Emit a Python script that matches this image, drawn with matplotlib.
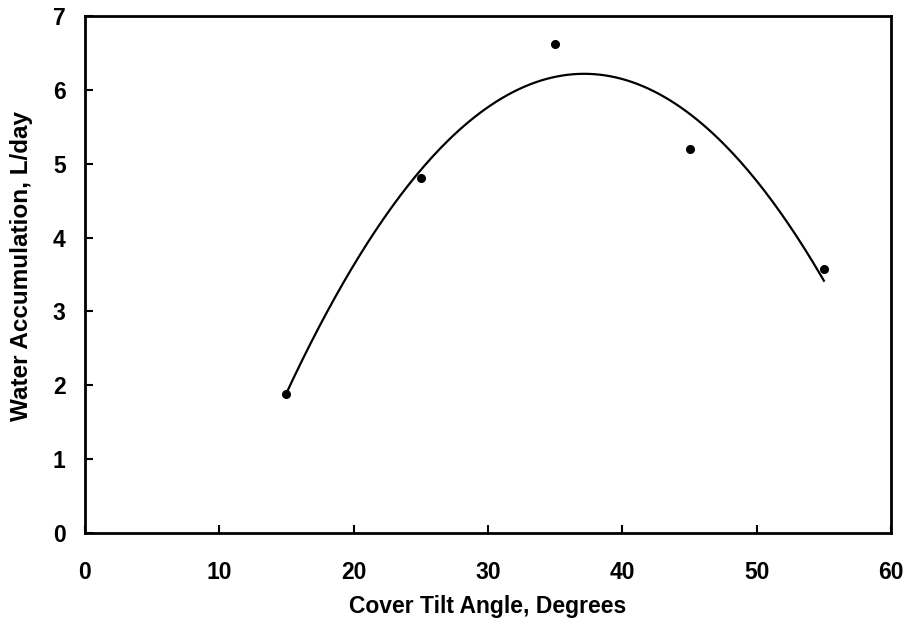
import matplotlib.pyplot as plt
import numpy as np

plt.rcParams['font.family'] = ['Liberation Sans', 'DejaVu Sans']
plt.rcParams['font.weight'] = 'bold'

# measured points
tilt_angle = [15, 25, 35, 45, 55]
water_accum = [1.88, 4.8, 6.62, 5.2, 3.58]

# second order trendline through the points
coef = np.polyfit(tilt_angle, water_accum, 2)
x_fit = np.linspace(min(tilt_angle), max(tilt_angle), 200)
y_fit = np.polyval(coef, x_fit)

fig = plt.figure(figsize=(9.07, 6.24), dpi=100)
ax = fig.add_axes([0.0937, 0.1458, 0.8887, 0.8286])

ax.plot(x_fit, y_fit, color='black', lw=1.6)
ax.plot(tilt_angle, water_accum, 'o', color='black', ms=5.5)

ax.set_xlim(0, 60)
ax.set_ylim(0, 7)
ax.set_xticks(range(0, 61, 10))
ax.set_yticks(range(0, 8))
ax.tick_params(direction='in', length=6, width=1.5, labelsize=16.5)
ax.tick_params(axis='x', pad=20)
ax.tick_params(axis='y', pad=14)
for s in ax.spines.values():
    s.set_linewidth(2)

ax.set_xlabel('Cover Tilt Angle, Degrees', fontsize=16.5, fontweight='bold', labelpad=8)
ax.set_ylabel('Water Accumulation, L/day', fontsize=17.5, fontweight='bold')
ax.yaxis.set_label_coords(-0.064, 0.516)

fig.savefig('out.png', dpi=100)
